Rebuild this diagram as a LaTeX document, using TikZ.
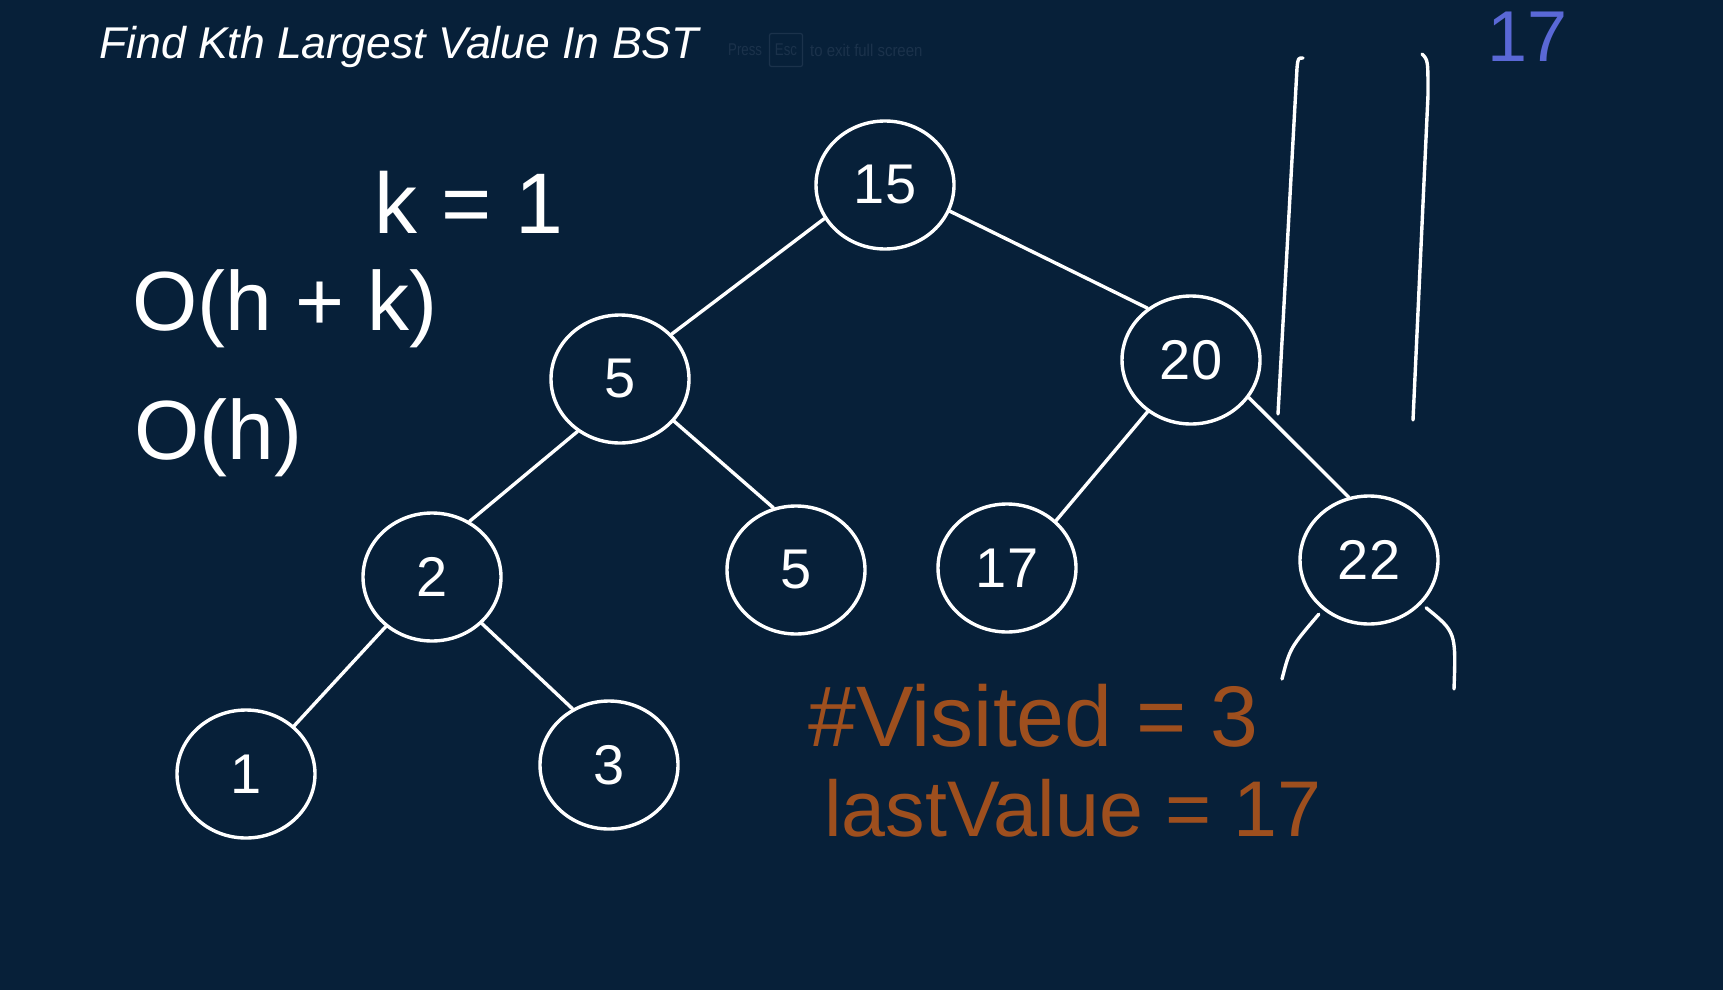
\documentclass[tikz,border=0pt]{standalone}
\usepackage{fontspec}
\setmainfont{Liberation Sans}
\usetikzlibrary{shapes.geometric}
\definecolor{board}{HTML}{072039}
\definecolor{rust}{HTML}{9E4F1E}
\definecolor{penblue}{HTML}{5A68D6}
\definecolor{hint}{HTML}{1B324B}

\begin{document}
\begin{tikzpicture}[line cap=round,line join=round,x=1pt,y=-1pt]
\tikzset{
  bstnode/.style={ellipse, draw=white, line width=3.4pt, minimum width=138pt, minimum height=128pt,
    inner sep=0pt, text=white, font=\fontsize{56}{60}\selectfont},
  branch/.style={draw=white, line width=3.4pt},
  scrawl/.style={anchor=base west, inner sep=0pt, font=\fontsize{#1}{#1}\selectfont},
  faint/.style={anchor=west, inner sep=0pt, text=hint, font=\fontsize{17}{19}\selectfont}
}
\def\boardw{1723}
\def\boardh{990}

% board
\fill[board] (0,0) rectangle (\boardw,\boardh);
\useasboundingbox (0,0) rectangle (\boardw,\boardh);

% title
\node[anchor=west, inner sep=0pt, text=white, font=\itshape\fontsize{44.5}{50}\selectfont] (title) at (99,47) {Find Kth Largest Value In BST};
\node[faint] (press) at (728,50) {\scalebox{0.78}[1]{Press}};
\node[faint, anchor=center, draw=hint, line width=1.2pt, rounded corners=2pt, minimum width=33pt, minimum height=33pt] (esckey) at (786,50) {\scalebox{0.78}[1]{Esc}};
\node[faint] (exitnote) at (810,50) {\scalebox{0.88}[1]{to exit full screen}};

% tree
\foreach \name/\x/\y/\val in {n15/885/185/15, n5/620/379/5, n20/1191/360/20, n2/432/577/2, n5b/796/570/5,
    n17/1007/568/17, n22/1369/560/22, n1/246/774/1, n3/609/765/3}
  \node[bstnode] (\name) at (\x,\y) {\val};

\foreach \a/\sa/\b/\sb in {n15/209/n5/41, n15/338/n20/130, n5/231/n2/56, n5/322/n5b/110,
    n20/230/n17/44, n20/327/n22/108, n2/227/n1/45, n2/317/n3/123}
  \draw[branch] (\a.\sa) -- (\b.\sb);

% empty children of 22
\coordinate (n22left) at (1282,679);
\coordinate (n22right) at (1454,689);
\draw[branch, shorten <=6pt] (n22.227) .. controls (1290,648) .. (n22left);
\draw[branch, shorten <=6pt] (n22.-40) .. controls (1456,632) .. (n22right);

% stack
\draw[branch] (1303,58) .. controls (1298,58) .. (1297,68) -- (1278,414);
\draw[branch] (1422,54) .. controls (1428,60) .. (1428,95) -- (1413,420);
\node[scrawl=72, text=penblue] (top) at (1487,62) {17};

% notes
\node[scrawl=86, text=white] (kval) at (374,233) {k = 1};
\node[scrawl=84, text=white] (timecx) at (132,330) {O(h + k)};
\node[scrawl=84, text=white] (spacecx) at (134,459) {O(h)};
\node[scrawl=86, text=rust] (visited) at (808,746) {\#Visited = 3};
\node[scrawl=79, text=rust] (lastval) at (824,836) {lastValue = 17};

\end{tikzpicture}
\end{document}
